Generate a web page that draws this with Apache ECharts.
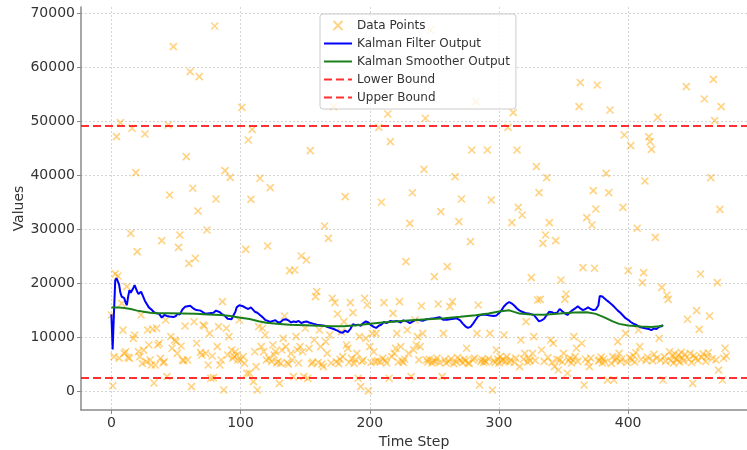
<!DOCTYPE html>
<html>
<head>
<meta charset="utf-8">
<title>Kalman filter and smoother</title>
<script src="https://cdn.jsdelivr.net/npm/echarts@6/dist/echarts.min.js"></script>
<style>
  html, body { margin: 0; padding: 0; background: #ffffff; }
  #chart { width: 747px; height: 450px; }
</style>
</head>
<body>
<div id="chart"></div>
<script>
// Raw observations, one per time step (index = step)
const observations = [
  /*   0 */ 14200, 1100, 6480, 21800, 47190, 21400, 6200, 49770, 16350, 11400,
  /*  10 */ 7100, 7400, 19440, 6360, 6180, 29300, 48730, 9870, 10500, 40520,
  /*  20 */ 25910, 7410, 6480, 14200, 5250, 7700, 47680, 5560, 11410, 8640,
  /*  30 */ 5870, 4950, 11600, 1600, 4950, 11730, 8640, 8960, 6170, 27950,
  /*  40 */ 5380, 5550, 13260, 2780, 49340, 36390, 10190, 8030, 63830, 9560,
  /*  50 */ 9260, 7100, 26710, 28990, 8450, 5870, 5740, 12160, 43480, 5870,
  /*  60 */ 23750, 59210, 940, 37630, 12950, 24680, 8960, 33430, 58280, 7280,
  /*  70 */ 6790, 12350, 12150, 7100, 29920, 4940, 10800, 2480, 6600, 2600,
  /*  80 */ 67650, 35650, 8340, 12030, 4940, 5870, 16660, 320, 40900, 11730,
  /*  90 */ 6790, 10180, 39660, 7720, 6180, 6480, 7400, 6800, 5860, 13260,
  /* 100 */ 5870, 52610, 6480, 5250, 26340, 3400, 46570, 3410, 35590, 48540,
  /* 110 */ 1870, 7400, 4630, 320, 12030, 39480, 8340, 11730, 7410, 10500,
  /* 120 */ 5900, 26960, 6170, 37750, 5600, 8650, 6790, 7410, 5300, 5560,
  /* 130 */ 1550, 5250, 7720, 9870, 14010, 8340, 5400, 5100, 22400, 7100,
  /* 140 */ 5860, 2780, 22520, 10190, 7720, 5300, 8330, 25110, 7400, 2790,
  /* 150 */ 11730, 24370, 2470, 8020, 44590, 5200, 5500, 9560, 17590, 18510,
  /* 160 */ 5400, 11420, 8330, 5100, 4640, 30660, 9250, 7100, 28370, 10490,
  /* 170 */ 5300, 17280, 52740, 16480, 5560, 14380, 5200, 6000, 11100, 6480,
  /* 180 */ 12970, 36090, 8640, 8020, 5400, 16480, 6170, 14630, 5250, 5900,
  /* 190 */ 7100, 2480, 10190, 940, 5600, 5860, 17280, 9870, 16050, 150,
  /* 200 */ 8330, 5400, 10800, 7400, 5600, 10800, 5700, 48910, 5500, 35040,
  /* 210 */ 6170, 16480, 5800, 5300, 51380, 2480, 46260, 6480, 14500, 7100,
  /* 220 */ 8020, 10800, 5500, 16660, 8330, 5700, 5400, 6000, 24060, 11420,
  /* 230 */ 7100, 31150, 2790, 36800, 7710, 13270, 8640, 10180, 5900, 8340,
  /* 240 */ 15860, 10800, 41140, 50580, 5870, 5500, 6000, 66920, 5300, 5700,
  /* 250 */ 21290, 5600, 6200, 16230, 5400, 33310, 2780, 10800, 5900, 5300,
  /* 260 */ 23140, 5600, 15740, 6100, 16660, 5200, 39790, 5500, 6300, 31460,
  /* 270 */ 5800, 35650, 5400, 6000, 5700, 8030, 5300, 5250, 27760, 44720,
  /* 280 */ 5900, 6200, 53660, 10800, 16050, 1240, 5600, 6000, 5400, 5800,
  /* 290 */ 5500, 44720, 6100, 10800, 35470, 320, 5700, 5400, 7720, 6000,
  /* 300 */ 5300, 6500, 5800, 5900, 10500, 5600, 6490, 48910, 5500, 5900,
  /* 310 */ 31270, 51620, 5400, 6200, 44720, 34110, 4640, 9570, 32690, 6000,
  /* 320 */ 7100, 12960, 5500, 6200, 5700, 21100, 7100, 10190, 5800, 41630,
  /* 330 */ 16970, 36820, 17090, 7720, 27450, 5600, 28990, 39600, 6300, 31270,
  /* 340 */ 9570, 5400, 8960, 4640, 27940, 6000, 4020, 5900, 20670, 5500,
  /* 350 */ 7100, 17090, 18080, 3410, 5800, 6200, 5300, 5870, 10190, 6500,
  /* 360 */ 8030, 5600, 52740, 57170, 8960, 22950, 1240, 6000, 32200, 5500,
  /* 370 */ 4640, 6200, 30850, 37200, 22830, 33800, 56740, 5700, 5870, 6400,
  /* 380 */ 5300, 6000, 5500, 40400, 2170, 36820, 52120, 5250, 6490, 2170,
  /* 390 */ 5800, 6200, 9260, 7100, 5600, 6000, 34110, 47490, 10800, 5400,
  /* 400 */ 22400, 6300, 45520, 5900, 6700, 5500, 7200, 30230, 11420, 8340,
  /* 410 */ 6000, 20180, 22030, 38980, 5800, 6400, 47180, 46260, 44840, 5700,
  /* 420 */ 6900, 28560, 6200, 50760, 9880, 5900, 19310, 2170, 6500, 5600,
  /* 430 */ 17890, 17090, 7400, 5800, 6600, 5300, 7000, 6100, 5900, 6800,
  /* 440 */ 5500, 7300, 6300, 5700, 6900, 56430, 13400, 6000, 7100, 5400,
  /* 450 */ 1550, 6700, 6200, 15000, 5800, 11540, 21780, 6400, 7000, 54150,
  /* 460 */ 5600, 6500, 7200, 14010, 39600, 6100, 57790, 50140, 5900, 20180,
  /* 470 */ 3980, 33740, 52730, 2170, 6180, 8030, 6600
];

// Kalman filter estimate: [time step, value]
const filterOutput = [
  [0,14300],[1,7800],[2,14500],[3,20600],[4,21000],[5,21100],[6,19800],[7,18300],[8,17600],[10,17300],
  [11,16500],[12,16000],[13,17600],[14,18800],[15,18300],[16,18500],[17,19200],[18,19700],[19,19100],[20,18500],
  [21,18100],[22,17800],[23,18500],[24,18300],[26,16800],[27,16600],[29,15600],[31,15200],[33,14700],[35,14500],
  [37,14400],[39,13700],[40,13800],[41,14200],[43,14000],[45,13900],[46,14200],[48,13800],[50,14000],[51,14400],
  [53,14300],[55,15200],[57,15700],[59,15800],[61,15900],[62,15600],[64,15300],[66,15100],[67,15300],[69,15000],
  [71,14700],[73,14400],[74,14200],[76,14500],[77,14300],[79,14600],[81,15000],[82,15100],[84,14700],[86,14300],
  [88,14000],[90,13500],[91,13300],[93,13400],[94,13900],[96,14800],[97,15600],[99,16000],[100,16200],[102,15800],
  [104,15500],[106,15300],[108,15600],[109,15500],[111,14800],[113,14600],[115,14200],[117,13800],[119,13300],[121,13100],
  [123,12900],[125,13100],[127,13200],[129,12800],[131,12900],[133,13300],[135,13400],[137,13200],[139,12800],[141,13000],
  [143,12900],[145,13100],[147,12700],[149,12900],[151,13000],[153,12800],[156,12600],[159,12400],[162,12300],[165,12200],
  [168,11900],[171,11700],[173,11500],[175,11300],[177,11000],[179,10900],[181,11300],[183,11000],[185,11600],[187,12500],
  [189,12300],[191,12400],[193,12200],[195,12700],[197,13000],[199,12800],[201,12300],[203,12000],[205,11800],[207,12200],
  [209,12400],[211,12900],[213,12700],[216,13100],[218,13000],[221,13100],[224,12800],[226,13200],[229,13000],[231,12700],
  [234,13100],[236,13300],[239,13200],[241,13100],[244,13400],[247,13500],[250,13600],[252,13700],[254,13800],[257,13300],
  [260,13300],[262,13400],[265,13500],[267,13600],[270,13200],[272,12600],[274,12100],[276,11800],[278,12000],[280,12600],
  [282,13300],[284,14000],[286,14200],[288,14300],[291,14200],[293,14100],[296,14000],[298,14100],[300,14500],[302,15100],
  [304,15800],[306,16300],[308,16600],[310,16300],[312,15900],[314,15400],[316,15000],[318,14800],[321,14500],[324,14400],
  [327,14200],[329,13600],[331,13000],[333,13200],[335,13500],[337,14200],[339,14800],[341,14700],[343,14500],[345,14600],
  [347,15300],[349,14900],[351,14500],[353,14200],[355,14700],[357,15100],[359,15400],[361,15800],[363,15400],[365,15100],
  [367,15300],[369,15600],[371,15300],[373,15100],[375,15200],[377,16000],[378,17700],[380,17600],[382,17200],[384,16800],
  [386,16400],[388,16000],[390,15500],[392,15000],[394,14600],[396,14100],[398,13600],[400,13300],[402,12900],[404,12600],
  [406,12400],[408,12100],[410,11900],[412,11800],[414,11700],[416,11600],[418,11400],[420,11700],[422,11600],[424,12000],
  [426,12100],[427,12350]
];

// Kalman smoother estimate: [time step, value]
const smootherOutput = [
  [0,15600],[5,15600],[10,15500],[15,15300],[20,15000],[25,14800],[30,14600],[35,14500],[45,14500],[55,14450],
  [65,14400],[75,14300],[85,14200],[92,14000],[100,13700],[107,13450],[114,13050],[120,12750],[128,12550],[138,12400],
  [150,12300],[160,12200],[170,12100],[180,12100],[190,12300],[200,12550],[210,12800],[220,13000],[232,13200],[245,13400],
  [258,13600],[270,13850],[282,14150],[292,14450],[300,14850],[308,15050],[316,14450],[325,14300],[335,14250],[347,14450],
  [358,14650],[368,14700],[375,14400],[382,13700],[388,13000],[393,12550],[400,12250],[410,12050],[418,11950],[424,12100],
  [427,12250]
];

const lowerBound = 2670;
const upperBound = 49150;

const lineSeriesNames = ['Kalman Filter Output', 'Kalman Smoother Output', 'Lower Bound', 'Upper Bound'];
const xTicks = [0, 100, 200, 300, 400];

const FONT = 'DejaVu Sans';
const TEXT = '#333333';
const AXIS = '#8a8a8a';
const RED = '#ff1a1a';

const chart = echarts.init(document.getElementById('chart'), null, { renderer: 'canvas' });

function boundSeries(name, value) {
  return {
    name: name,
    type: 'line',
    data: [],
    symbol: 'none',
    silent: true,
    lineStyle: { color: RED, type: [8, 4], width: 2, opacity: 0.9 },
    itemStyle: { color: RED },
    markLine: {
      silent: true,
      symbol: ['none', 'none'],
      label: { show: false },
      emphasis: { disabled: true },
      lineStyle: { color: RED, type: [8, 4], width: 2, opacity: 0.9 },
      data: [{ yAxis: value }]
    },
    z: 4
  };
}

const plainNumber = v => String(Math.round(v));

const option = {
  animation: false,
  backgroundColor: '#ffffff',
  textStyle: { fontFamily: FONT },
  grid: { left: 81, right: 0, top: 7, bottom: 40, containLabel: false, outerBoundsMode: 'none' },
  legend: {
    // line entries show only the stroke, no point marker
    data: [{ name: 'Data Points' }].concat(
      lineSeriesNames.map(n => ({ name: n, itemStyle: { opacity: 0 } }))
    ),
    orient: 'vertical',
    left: 320,
    top: 14,
    padding: [5, 6, 5, 3],
    itemGap: 5,
    itemWidth: 28,
    itemHeight: 9,
    backgroundColor: 'rgba(255,255,255,0.8)',
    borderColor: '#cccccc',
    borderWidth: 1,
    borderRadius: 3,
    selectedMode: false,
    textStyle: { fontFamily: FONT, fontSize: 12, color: TEXT, lineHeight: 13 }
  },
  xAxis: {
    type: 'value',
    min: -23.5,
    max: 492,
    splitNumber: 5,
    name: 'Time Step',
    nameLocation: 'middle',
    nameGap: 22,
    nameTextStyle: { fontFamily: FONT, fontSize: 14, color: TEXT },
    axisLine: { show: true, onZero: false, lineStyle: { color: AXIS, width: 1.5 } },
    axisTick: { show: true, length: 4, lineStyle: { color: AXIS } },
    axisLabel: {
      fontFamily: FONT, fontSize: 14, color: TEXT, margin: 6,
      showMinLabel: false, showMaxLabel: false,
      formatter: v => (xTicks.indexOf(v) >= 0 ? String(v) : '')
    },
    splitLine: {
      show: true, showMinLine: false, showMaxLine: false,
      lineStyle: { color: '#d6d6d6', type: [2, 2], width: 1 }
    }
  },
  yAxis: {
    type: 'value',
    min: -3385,
    max: 71170,
    splitNumber: 7,
    name: 'Values',
    nameLocation: 'middle',
    nameRotate: 90,
    nameGap: 55,
    nameMoveOverlap: false,
    nameTextStyle: { fontFamily: FONT, fontSize: 14, color: TEXT },
    axisLine: { show: true, onZero: false, lineStyle: { color: AXIS, width: 1.5 } },
    axisTick: { show: true, length: 4, lineStyle: { color: AXIS } },
    axisLabel: {
      fontFamily: FONT, fontSize: 14, color: TEXT, margin: 6,
      showMinLabel: false, showMaxLabel: false,
      formatter: plainNumber
    },
    splitLine: {
      show: true, showMinLine: false, showMaxLine: false,
      lineStyle: { color: '#d6d6d6', type: [2, 2], width: 1 }
    }
  },
  series: [
    {
      name: 'Data Points',
      type: 'scatter',
      data: observations.map((v, i) => [i, v]),
      symbol: 'path://M0,0L10,10M10,0L0,10',
      symbolSize: 7,
      silent: true,
      itemStyle: { color: 'rgba(0,0,0,0)', borderColor: 'rgba(255,165,0,0.62)', borderWidth: 1.6 },
      z: 2
    },
    {
      name: 'Kalman Filter Output',
      type: 'line',
      data: filterOutput,
      symbol: 'none',
      silent: true,
      lineStyle: { color: '#0000ff', width: 2 },
      itemStyle: { color: '#0000ff' },
      z: 3
    },
    {
      name: 'Kalman Smoother Output',
      type: 'line',
      data: smootherOutput,
      symbol: 'none',
      silent: true,
      lineStyle: { color: '#1a7f1a', width: 2 },
      itemStyle: { color: '#1a7f1a' },
      z: 3
    },
    boundSeries('Lower Bound', lowerBound),
    boundSeries('Upper Bound', upperBound)
  ]
};

chart.setOption(option);
</script>
</body>
</html>
